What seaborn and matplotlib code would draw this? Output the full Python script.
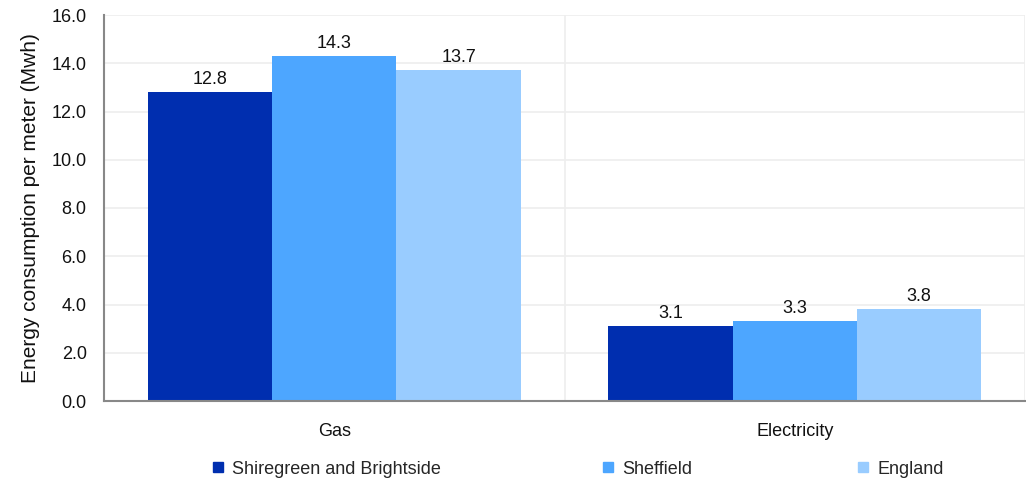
import matplotlib
matplotlib.use("Agg")
import matplotlib.pyplot as plt
import seaborn as sns
import pandas as pd
from matplotlib.lines import Line2D

categories = ["Gas", "Electricity"]
series = ["Shiregreen and Brightside", "Sheffield", "England"]
values_shiregreen = [12.8, 3.1]
values_sheffield = [14.3, 3.3]
values_england = [13.7, 3.8]
colors = ["#002EAF", "#4DA6FF", "#99CCFF"]
yticks = [0, 2, 4, 6, 8, 10, 12, 14, 16]

rows = []
for s, vals in zip(series, [values_shiregreen, values_sheffield, values_england]):
    for c, v in zip(categories, vals):
        rows.append({"category": c, "series": s, "value": v})
df = pd.DataFrame(rows)

sns.set_style("white")
plt.rcParams["font.family"] = ["Liberation Sans", "DejaVu Sans"]

fig = plt.figure(figsize=(10.26, 4.8), dpi=100)
ax = fig.add_axes([104 / 1026, 79 / 480, 921 / 1026, 386 / 480])

sns.barplot(data=df, x="category", y="value", hue="series", order=categories,
            hue_order=series, palette=colors, width=0.81, saturation=1,
            ax=ax, legend=False, linewidth=0)

for cont in ax.containers:
    ax.bar_label(cont, fmt="%.1f", padding=3, fontsize=13, color="#111111")

ax.set_xlim(-0.5, 1.5)
ax.set_ylim(0, 16)
ax.set_yticks(yticks)
ax.set_yticklabels([f"{t:.1f}" for t in yticks])
ax.set_xticks([0, 1])
ax.set_xticklabels(categories)
ax.set_xticks([-0.5, 0.5, 1.5], minor=True)
ax.tick_params(axis="x", which="major", length=0, pad=16, labelsize=13, labelcolor="#111111")
ax.tick_params(axis="x", which="minor", length=6, width=1.2, color="#888888", direction="out")
ax.tick_params(axis="y", length=5, width=1.2, color="#888888", labelsize=13, labelcolor="#111111", pad=7.5)
ax.set_axisbelow(True)
ax.yaxis.grid(True, color="#eeeeee", linewidth=1.2)
ax.xaxis.grid(True, which="minor", color="#eeeeee", linewidth=1.2)
ax.xaxis.grid(False, which="major")

for side in ["top", "right"]:
    ax.spines[side].set_visible(False)
for side in ["left", "bottom"]:
    ax.spines[side].set_color("#888888")
    ax.spines[side].set_linewidth(1.5)

ax.set_xlabel("")
ax.set_ylabel("Energy consumption per meter (Mwh)", fontsize=15, color="#111111")
ax.yaxis.set_label_coords(-0.069, 0.5)

legend_x = [210.8, 600.8, 855.8]
for lx, s, c in zip(legend_x, series, colors):
    h = Line2D([0], [0], marker="s", linestyle="none", markersize=7.2,
               markerfacecolor=c, markeredgecolor=c)
    fig.legend([h], [s], loc="center left",
               bbox_to_anchor=(lx / 1026, 1 - 469 / 480),
               frameon=False, fontsize=13, borderpad=0, borderaxespad=0,
               handlelength=0.8, handletextpad=0.38)

fig.savefig("out.png", dpi=100)
